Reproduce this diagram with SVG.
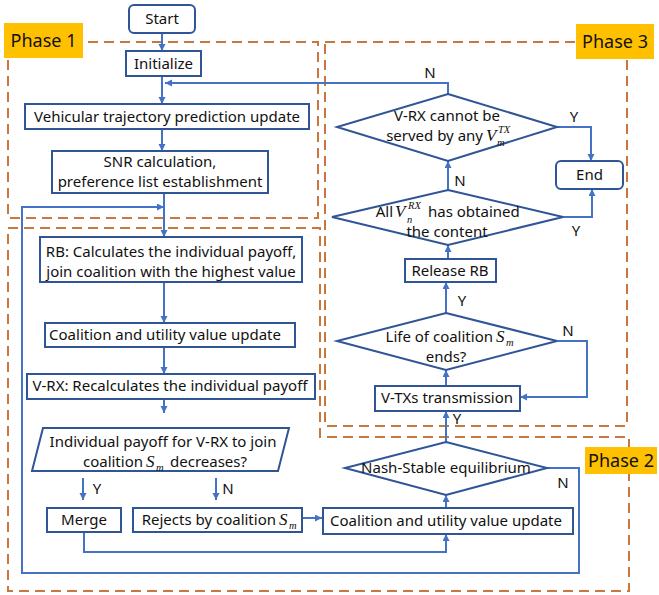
<svg xmlns="http://www.w3.org/2000/svg" width="659" height="595" viewBox="0 0 659 595">
<defs>
<marker id="ah" markerUnits="userSpaceOnUse" markerWidth="8" markerHeight="8" refX="7" refY="3.5" orient="auto">
<path d="M0,0 L7,3.5 L0,7 z" fill="#4472C4"/>
</marker>
<style>
.ph{fill:none;stroke:#C9773A;stroke-width:2;stroke-dasharray:10,6}
.lab{fill:#FFC000}
.labt{font-family:"Noto Sans","Liberation Sans",sans-serif;font-size:18px;fill:#111}
.box{fill:#fff;stroke:#2F5597;stroke-width:2}
.t{font-family:"Noto Sans","Liberation Sans",sans-serif;font-size:15px;fill:#111}
.m{font-family:"Liberation Serif","DejaVu Serif",serif;font-style:italic;font-size:17px;fill:#111}
.ms{font-family:"Liberation Serif","DejaVu Serif",serif;font-style:italic;font-size:10.5px;fill:#111}
.c{fill:none;stroke:#4472C4;stroke-width:2}
.a{marker-end:url(#ah)}
</style>
</defs>
<rect width="659" height="595" fill="#fff"/>

<g id="phases">
<rect class="ph" x="8" y="42" width="310" height="176"/>
<rect class="ph" x="325" y="42" width="302" height="384"/>
<path class="ph" d="M8,228 H320 V437 H629 V591 H8 Z"/>
</g>

<g id="connectors">
<path class="c a" d="M162,33 V51"/>
<path class="c a" d="M162,76 V104"/>
<path class="c a" d="M162,129 V151"/>
<path class="c a" d="M164,193 V237"/>
<path class="c a" d="M547,468 H579 V573 H22 V207 H164"/>
<path class="c a" d="M164,282 V323"/>
<path class="c a" d="M164,347 V374"/>
<path class="c a" d="M164,399 V413"/>
<path class="c a" d="M83,478 V500"/>
<path class="c a" d="M216,478 V500"/>
<path class="c a" d="M302,518 H322"/>
<path class="c a" d="M84,532 V552 H446 V534"/>
<path class="c a" d="M446,508 V495"/>
<path class="c a" d="M446,442 V411"/>
<path class="c a" d="M446,386 V370"/>
<path class="c a" d="M557,341 H587 V397 H520"/>
<path class="c a" d="M446,313 V282"/>
<path class="c a" d="M448,259 V245"/>
<path class="c a" d="M563,217 H592 V189"/>
<path class="c a" d="M448,190 V161"/>
<path class="c a" d="M557,127 H591 V161"/>
<path class="c a" d="M448,94 V83 H165"/>
</g>

<g id="phase-labels">
<g id="phase1"><rect class="lab" x="4" y="23" width="79" height="35"/><text class="labt" x="43.5" y="47" text-anchor="middle">Phase 1</text></g>
<g id="phase3"><rect class="lab" x="576" y="24" width="78" height="35"/><text class="labt" x="615" y="48" text-anchor="middle">Phase 3</text></g>
<g id="phase2"><rect class="lab" x="585" y="447" width="72" height="27"/><text class="labt" x="621" y="467" text-anchor="middle">Phase 2</text></g>
</g>

<g id="start"><rect class="box" x="129" y="5" width="66" height="28" rx="5"/><text class="t" x="162" y="24" text-anchor="middle">Start</text></g>
<g id="initialize"><rect class="box" x="126" y="51" width="75" height="25"/><text class="t" x="163.5" y="69" text-anchor="middle">Initialize</text></g>
<g id="vehicular"><rect class="box" x="25" y="104" width="284" height="25"/><text class="t" x="167" y="122" text-anchor="middle">Vehicular trajectory prediction update</text></g>
<g id="snr"><rect class="box" x="52" y="151" width="216" height="42"/><text class="t" x="160" y="167" text-anchor="middle">SNR calculation,</text><text class="t" x="160" y="187" text-anchor="middle">preference list establishment</text></g>
<g id="rb"><rect class="box" x="40" y="237" width="262" height="45"/><text class="t" x="171" y="257" text-anchor="middle">RB: Calculates the individual payoff,</text><text class="t" x="171" y="277" text-anchor="middle">join coalition with the highest value</text></g>
<g id="coal1"><rect class="box" x="45" y="323" width="250" height="24"/><text class="t" x="165" y="340" text-anchor="middle">Coalition and utility value update</text></g>
<g id="vrx"><rect class="box" x="27" y="374" width="288" height="25"/><text class="t" x="170" y="391" text-anchor="middle">V-RX: Recalculates the individual payoff</text></g>
<g id="payoff"><path class="box" d="M43,428 H289 L278,471 H32 Z"/>
<text class="t" x="163" y="447" text-anchor="middle">Individual payoff for V-RX to join</text>
<text class="t" x="143" y="467" text-anchor="end">coalition</text>
<text class="m" x="146" y="467">S</text><text class="ms" x="156" y="471">m</text>
<text class="t" x="170" y="467">decreases?</text></g>
<g id="merge"><rect class="box" x="47" y="508" width="74" height="24"/><text class="t" x="84" y="525" text-anchor="middle">Merge</text></g>
<g id="rejects"><rect class="box" x="133" y="508" width="169" height="24"/><text class="t" x="276" y="525" text-anchor="end">Rejects by coalition</text><text class="m" x="279" y="525">S</text><text class="ms" x="289" y="529">m</text></g>
<g id="coal2"><rect class="box" x="323" y="508" width="250" height="26"/><text class="t" x="446" y="526" text-anchor="middle">Coalition and utility value update</text></g>
<g id="nash"><path class="box" d="M446,442 L547,468 L446,495 L345,468 Z"/><text class="t" x="446" y="473" text-anchor="middle">Nash-Stable equilibrium</text></g>
<g id="vtx"><rect class="box" x="375" y="386" width="145" height="25"/><text class="t" x="447" y="403" text-anchor="middle">V-TXs transmission</text></g>
<g id="life"><path class="box" d="M446,313 L557,341 L446,370 L337,341 Z"/>
<text class="t" x="493" y="342" text-anchor="end">Life of coalition</text><text class="m" x="496" y="342">S</text><text class="ms" x="506" y="346">m</text>
<text class="t" x="446" y="362" text-anchor="middle">ends?</text></g>
<g id="release"><rect class="box" x="405" y="259" width="91" height="23"/><text class="t" x="450" y="276" text-anchor="middle">Release RB</text></g>
<g id="allv"><path class="box" d="M448,190 L563,217 L448,245 L332,217 Z"/>
<text class="t" x="393" y="217" text-anchor="end">All</text><text class="m" x="395" y="217">V</text><text class="ms" x="408" y="209">RX</text><text class="ms" x="407" y="223">n</text>
<text class="t" x="428" y="217">has obtained</text>
<text class="t" x="447" y="237" text-anchor="middle">the content</text></g>
<g id="cannot"><path class="box" d="M448,94 L557,127 L448,161 L337,127 Z"/>
<text class="t" x="447" y="121" text-anchor="middle">V-RX cannot be</text>
<text class="t" x="483" y="141" text-anchor="end">served by any</text><text class="m" x="486" y="141">V</text><text class="ms" x="498" y="133">TX</text><text class="ms" x="497" y="146">m</text></g>
<g id="end"><rect class="box" x="556" y="161" width="67" height="28" rx="5"/><text class="t" x="589.5" y="180" text-anchor="middle">End</text></g>

<g id="branch-labels">
<text class="t" x="430" y="78" text-anchor="middle">N</text>
<text class="t" x="574" y="122" text-anchor="middle">Y</text>
<text class="t" x="460" y="186" text-anchor="middle">N</text>
<text class="t" x="576" y="236" text-anchor="middle">Y</text>
<text class="t" x="462" y="306" text-anchor="middle">Y</text>
<text class="t" x="568" y="336" text-anchor="middle">N</text>
<text class="t" x="457" y="424" text-anchor="middle">Y</text>
<text class="t" x="563" y="488" text-anchor="middle">N</text>
<text class="t" x="97" y="494" text-anchor="middle">Y</text>
<text class="t" x="228" y="494" text-anchor="middle">N</text>
</g>
</svg>
